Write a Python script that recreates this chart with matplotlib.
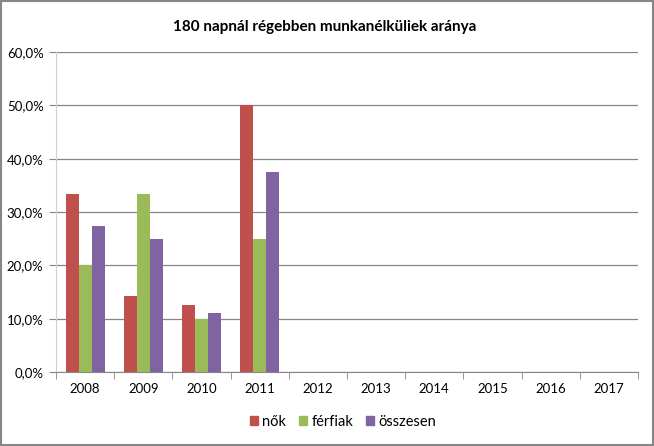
import matplotlib.pyplot as plt
import matplotlib.patches as mpatches
import numpy as np

# Datos del gráfico
anos = ['2008', '2009', '2010', '2011', '2012', '2013', '2014', '2015', '2016', '2017']
nok = [33.3, 14.3, 12.5, 50.0, None, None, None, None, None, None]
ferfiak = [20.0, 33.3, 10.0, 25.0, None, None, None, None, None, None]
osszesen = [27.3, 25.0, 11.1, 37.5, None, None, None, None, None, None]

series = [('nők', nok, '#C0504D'), ('férfiak', ferfiak, '#9BBB59'), ('összesen', osszesen, '#8064A2')]

plt.rcParams['font.family'] = ['Lato', 'DejaVu Sans']

fig = plt.figure(figsize=(6.54, 4.46), dpi=100)
ax = fig.add_axes([56/654, 1-372/446, (638-56)/654, (372-52)/446])

x = np.arange(len(anos))
ancho = 1/4.5
for i, (nombre, valores, color) in enumerate(series):
    v = [np.nan if a is None else a for a in valores]
    ax.bar(x + (i-1)*ancho, v, width=ancho, color=color, label=nombre, zorder=3)

ax.set_xlim(-0.5, len(anos)-0.5)
ax.set_ylim(0, 60)
ax.set_yticks(np.arange(0, 61, 10))
ax.set_yticklabels([f"{t:.1f}%".replace('.', ',') for t in np.arange(0, 61, 10)], fontsize=9.5)
ax.set_xticks(x)
ax.set_xticklabels(anos, fontsize=9.5)
ax.set_xticks(np.arange(-0.5, len(anos), 1), minor=True)
ax.tick_params(axis='x', which='major', length=0, pad=8)
ax.tick_params(axis='x', which='minor', length=5, color='#868686')
ax.tick_params(axis='y', length=5, color='#868686', pad=4)
ax.grid(axis='y', color='#868686', linewidth=0.9, zorder=0)
for s in ['top', 'right']:
    ax.spines[s].set_visible(False)
ax.spines['left'].set_color('#d0d0d0')
ax.spines['bottom'].set_color('#868686')

fig.text(325/654, 1-27/446, '180 napnál régebben munkanélküliek aránya', ha='center', va='center',
         fontsize=11, fontweight='bold')

handles = [mpatches.Patch(color=c, label=n) for n, _, c in series]
fig.legend(handles=handles, loc='center', bbox_to_anchor=(343/654, 1-422/446), ncol=3, frameon=False,
           fontsize=10.5, handlelength=0.55, handleheight=0.55, handletextpad=0.3, columnspacing=0.9)

fig.patches.append(mpatches.Rectangle((0.002, 0.003), 0.996, 0.994, transform=fig.transFigure,
                                      fill=False, edgecolor='#868686', linewidth=1.5))

fig.savefig('out.png', dpi=100)
